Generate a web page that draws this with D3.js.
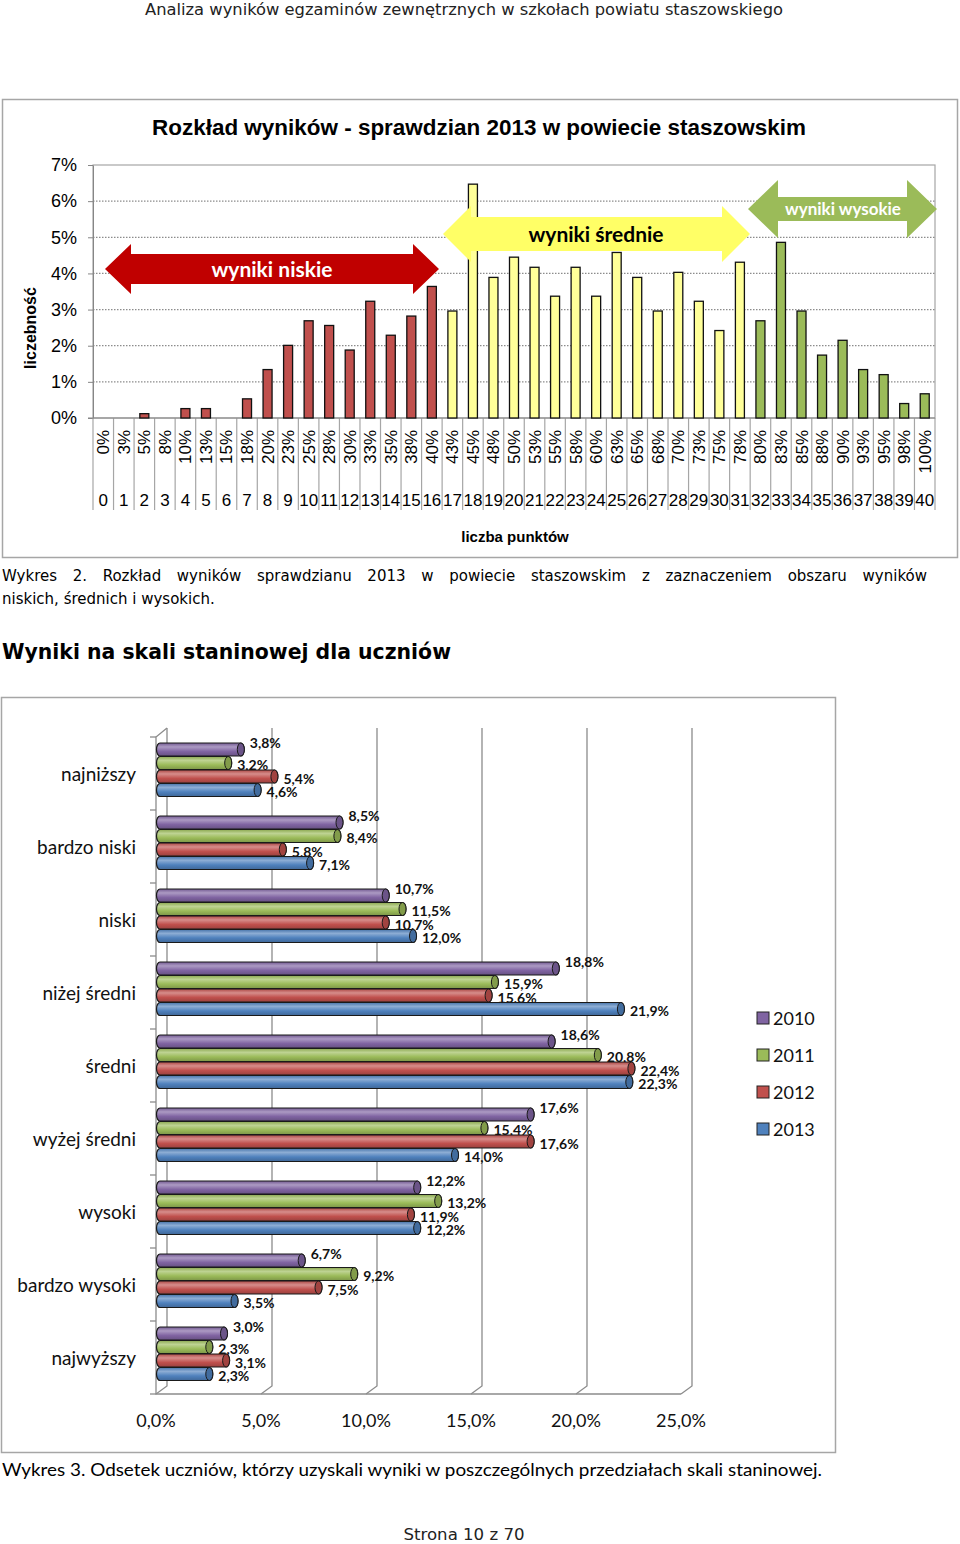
<!DOCTYPE html>
<html>
<head>
<meta charset="utf-8">
<script src="https://cdn.jsdelivr.net/npm/d3@7"></script>
<style>
  body { margin: 0; background: #fff; }
  svg { display: block; }
</style>
</head>
<body>
<svg id="page" width="960" height="1544"></svg>
<script>
// ---- chart 1: rozkład wyników (liczba punktów 0..40) ----
const points = [0,1,2,3,4,5,6,7,8,9,10,11,12,13,14,15,16,17,18,19,20,
                21,22,23,24,25,26,27,28,29,30,31,32,33,34,35,36,37,38,39,40];
const pointPct = ['0%','3%','5%','8%','10%','13%','15%','18%','20%','23%','25%','28%','30%','33%',
                  '35%','38%','40%','43%','45%','48%','50%','53%','55%','58%','60%','63%','65%',
                  '68%','70%','73%','75%','78%','80%','83%','85%','88%','90%','93%','95%','98%','100%'];
const shares = [0,0,0.12,0,0.26,0.26,0,0.53,1.34,2.01,2.69,2.56,1.88,3.23,2.29,2.82,3.64,
                2.96,6.47,3.89,4.45,4.17,3.37,4.17,3.37,4.58,3.89,2.96,4.03,3.23,2.42,4.31,
                2.69,4.86,2.96,1.74,2.15,1.34,1.20,0.40,0.67];
const yTicks = [0,1,2,3,4,5,6,7];
const lowEnd = 16;   // wyniki niskie: 0..16
const midEnd = 31;   // wyniki średnie: 17..31

// ---- chart 2: skala staninowa ----
const stanines = ['najniższy','bardzo niski','niski','niżej średni','średni',
                  'wyżej średni','wysoki','bardzo wysoki','najwyższy'];
const years = ['2010','2011','2012','2013'];
const v2010 = [3.8, 8.5, 10.7, 18.8, 18.6, 17.6, 12.2, 6.7, 3.0];
const v2011 = [3.2, 8.4, 11.5, 15.9, 20.8, 15.4, 13.2, 9.2, 2.3];
const v2012 = [5.4, 5.8, 10.7, 15.6, 22.4, 17.6, 11.9, 7.5, 3.1];
const v2013 = [4.6, 7.1, 12.0, 21.9, 22.3, 14.0, 12.2, 3.5, 2.3];
const xTicks2 = [0, 5, 10, 15, 20, 25];

const svg = d3.select('#page');
svg.append('rect').attr('width', 960).attr('height', 1544).attr('fill', '#fff');

// page header / footer
svg.append('text')
  .attr('x', 464).attr('y', 15)
  .attr('text-anchor', 'middle')
  .attr('textLength', 638).attr('lengthAdjust', 'spacingAndGlyphs')
  .style('font', '16px "DejaVu Sans"').attr('fill', '#222')
  .text('Analiza wyników egzaminów zewnętrznych w szkołach powiatu staszowskiego');

svg.append('text')
  .attr('x', 464).attr('y', 1540)
  .attr('text-anchor', 'middle')
  .attr('textLength', 121).attr('lengthAdjust', 'spacingAndGlyphs')
  .style('font', '16px "DejaVu Sans"').attr('fill', '#222')
  .text('Strona 10 z 70');

/* ================= chart 1 ================= */
const c1 = svg.append('g');

c1.append('rect')
  .attr('x', 2.5).attr('y', 99.5).attr('width', 955).attr('height', 458)
  .attr('fill', '#fff').attr('stroke', '#a6a6a6').attr('stroke-width', 1.5);

c1.append('text')
  .attr('x', 479).attr('y', 135)
  .attr('text-anchor', 'middle')
  .attr('textLength', 654).attr('lengthAdjust', 'spacingAndGlyphs')
  .style('font', 'bold 22px "Liberation Sans"').attr('fill', '#000')
  .text('Rozkład wyników - sprawdzian 2013 w powiecie staszowskim');

const x = d3.scaleBand().domain(points).range([93, 935]);
const y = d3.scaleLinear().domain([0, 7]).range([418, 165]);

// plot border + dotted grid
c1.append('rect')
  .attr('x', 93).attr('y', y(7)).attr('width', 842).attr('height', y(0) - y(7))
  .attr('fill', 'none').attr('stroke', '#a6a6a6').attr('stroke-width', 1.2);

c1.selectAll('.grid')
  .data(yTicks.filter(d => d > 0 && d < 7))
  .join('line')
  .attr('x1', 93).attr('x2', 935)
  .attr('y1', d => y(d)).attr('y2', d => y(d))
  .attr('stroke', '#8c8c8c').attr('stroke-width', 1.2)
  .attr('stroke-dasharray', '1.5,1.5');

// y axis
const yAxis = c1.append('g')
  .attr('transform', 'translate(93,0)')
  .call(d3.axisLeft(y).tickValues(yTicks).tickFormat(d => d + '%').tickSize(5).tickSizeOuter(0));
yAxis.select('.domain').attr('stroke', '#868686');
yAxis.selectAll('line').attr('stroke', '#868686');
yAxis.selectAll('text')
  .attr('x', -16)
  .style('font', '18px "Liberation Sans"').attr('fill', '#000');

c1.append('text')
  .attr('transform', 'translate(36,328) rotate(-90)')
  .attr('text-anchor', 'middle')
  .style('font', 'bold 16px "Liberation Sans"').attr('fill', '#000')
  .text('liczebność');

// category separators under the axis
const edges = points.map(p => x(p)).concat([935]);
c1.selectAll('.sep')
  .data(edges)
  .join('line')
  .attr('x1', d => d).attr('x2', d => d)
  .attr('y1', 418).attr('y2', 510)
  .attr('stroke', '#a6a6a6').attr('stroke-width', 1.2);

c1.append('line')
  .attr('x1', 88).attr('x2', 935).attr('y1', 418).attr('y2', 418)
  .attr('stroke', '#868686').attr('stroke-width', 1.2);

c1.selectAll('.pct')
  .data(points)
  .join('text')
  .attr('transform', d => `translate(${x(d) + x.bandwidth() / 2 + 6},430) rotate(-90)`)
  .attr('text-anchor', 'end')
  .style('font', '17px "Liberation Sans"').attr('fill', '#000')
  .text((d, i) => pointPct[i]);

c1.selectAll('.num')
  .data(points)
  .join('text')
  .attr('x', d => x(d) + x.bandwidth() / 2)
  .attr('y', 506)
  .attr('text-anchor', 'middle')
  .style('font', '17px "Liberation Sans"').attr('fill', '#000')
  .text(d => d);

c1.append('text')
  .attr('x', 515).attr('y', 542)
  .attr('text-anchor', 'middle')
  .style('font', 'bold 15px "Liberation Sans"').attr('fill', '#000')
  .text('liczba punktów');

// bars
function barColor(p) {
  if (p <= lowEnd) return '#c0504d';
  if (p <= midEnd) return '#ffff99';
  return '#9bbb59';
}
c1.selectAll('.bar')
  .data(points.filter((p, i) => shares[i] > 0))
  .join('rect')
  .attr('x', d => x(d) + x.bandwidth() / 2 - 4.5)
  .attr('width', 9)
  .attr('y', d => y(shares[d]))
  .attr('height', d => y(0) - y(shares[d]))
  .attr('fill', d => barColor(d))
  .attr('stroke', '#111').attr('stroke-width', 1.3);

// double arrows with region names
function doubleArrow(a) {
  const p = [
    [a.x0, a.cy], [a.x0 + a.hw, a.cy - a.hh], [a.x0 + a.hw, a.cy - a.bh],
    [a.x1 - a.hw, a.cy - a.bh], [a.x1 - a.hw, a.cy - a.hh], [a.x1, a.cy],
    [a.x1 - a.hw, a.cy + a.hh], [a.x1 - a.hw, a.cy + a.bh],
    [a.x0 + a.hw, a.cy + a.bh], [a.x0 + a.hw, a.cy + a.hh]
  ];
  c1.append('polygon').attr('points', p.map(q => q.join(',')).join(' ')).attr('fill', a.fill);
  c1.append('text')
    .attr('x', a.tx).attr('y', a.cy + a.fs * 0.36)
    .attr('text-anchor', 'middle')
    .style('font', `bold ${a.fs}px Lato`).attr('fill', a.color)
    .text(a.label);
}
doubleArrow({x0: 105, x1: 439, cy: 269, hw: 26, hh: 25, bh: 15, fill: '#c00000',
             label: 'wyniki niskie', color: '#fff', fs: 21, tx: 272});
doubleArrow({x0: 443, x1: 750, cy: 234, hw: 28, hh: 28, bh: 17, fill: '#ffff66',
             label: 'wyniki średnie', color: '#000', fs: 21, tx: 596});
doubleArrow({x0: 748, x1: 937, cy: 209, hw: 30, hh: 29, bh: 12, fill: '#9bbb59',
             label: 'wyniki wysokie', color: '#fff', fs: 17, tx: 843});

// caption of chart 1, justified first line
function justifyLine(words, x0, x1, yy, font) {
  const nodes = words.map(w => svg.append('text').attr('y', yy).style('font', font).attr('fill', '#000').text(w));
  const widths = nodes.map(n => n.node().getComputedTextLength());
  const gap = (x1 - x0 - d3.sum(widths)) / (words.length - 1);
  let cx = x0;
  nodes.forEach((n, i) => { n.attr('x', cx); cx += widths[i] + gap; });
}
const capFont = '15px "DejaVu Sans"';
justifyLine('Wykres 2. Rozkład wyników sprawdzianu 2013 w powiecie staszowskim z zaznaczeniem obszaru wyników'.split(' '),
            2, 927, 581, capFont);
svg.append('text').attr('x', 2).attr('y', 604).style('font', capFont).attr('fill', '#000')
  .text('niskich, średnich i wysokich.');

svg.append('text')
  .attr('x', 2).attr('y', 659)
  .attr('textLength', 449).attr('lengthAdjust', 'spacingAndGlyphs')
  .style('font', 'bold 21px "DejaVu Sans"').attr('fill', '#000')
  .text('Wyniki na skali staninowej dla uczniów');

/* ================= chart 2 ================= */
const c2 = svg.append('g');
c2.append('rect')
  .attr('x', 1.5).attr('y', 697.5).attr('width', 834).attr('height', 755)
  .attr('fill', '#fff').attr('stroke', '#a6a6a6').attr('stroke-width', 1.5);

const xs = d3.scaleLinear().domain([0, 25]).range([156, 681]);
const cat = d3.scaleBand().domain(stanines).range([737, 1394]);
const ser = d3.scaleBand().domain(years).range([6, 60]);
const depthX = 11, depthY = 8;
const floorY = 1394, wallTop = 728;

// back wall grid with floor slants
xTicks2.forEach(v => {
  c2.append('path')
    .attr('d', `M${xs(v) + depthX},${wallTop} L${xs(v) + depthX},${floorY - depthY} L${xs(v)},${floorY}`)
    .attr('fill', 'none').attr('stroke', '#8c8c8c').attr('stroke-width', 1.3);
});
// left wall (front edge), floor front edge
c2.append('path')
  .attr('d', `M${xs(0) + depthX},${wallTop} L${xs(0)},${wallTop + depthY + 1} L${xs(0)},${floorY} L${xs(25)},${floorY}`)
  .attr('fill', 'none').attr('stroke', '#8c8c8c').attr('stroke-width', 1.3);
// category ticks
c2.selectAll('.ctick')
  .data(stanines.map(s => cat(s)).concat([floorY]))
  .join('line')
  .attr('x1', xs(0) - 6).attr('x2', xs(0))
  .attr('y1', d => d).attr('y2', d => d)
  .attr('stroke', '#8c8c8c').attr('stroke-width', 1.3);

c2.selectAll('.clabel')
  .data(stanines)
  .join('text')
  .attr('x', 136)
  .attr('y', d => cat(d) + cat.bandwidth() / 2 + 7)
  .attr('text-anchor', 'end')
  .style('font', '19px Lato').attr('fill', '#111')
  .text(d => d);

c2.selectAll('.xlabel')
  .data(xTicks2)
  .join('text')
  .attr('x', d => xs(d))
  .attr('y', 1427)
  .attr('text-anchor', 'middle')
  .style('font', '18px Lato').attr('fill', '#111')
  .text(d => d3.format('.1f')(d).replace('.', ',') + '%');

// cylinder gradients
const colors = {'2010': '#8064a2', '2011': '#9bbb59', '2012': '#c0504d', '2013': '#4f81bd'};
const defs = svg.append('defs');
years.forEach(yr => {
  const base = d3.color(colors[yr]);
  const g = defs.append('linearGradient').attr('id', 'cyl' + yr)
    .attr('x1', 0).attr('y1', 0).attr('x2', 0).attr('y2', 1);
  g.append('stop').attr('offset', '0%').attr('stop-color', base.darker(0.3));
  g.append('stop').attr('offset', '30%').attr('stop-color', d3.interpolateRgb(base, '#fff')(0.35));
  g.append('stop').attr('offset', '65%').attr('stop-color', base);
  g.append('stop').attr('offset', '100%').attr('stop-color', base.darker(0.6));
});

const seriesVals = {'2010': v2010, '2011': v2011, '2012': v2012, '2013': v2013};
const bx = v => xs(v) + 5;
const fmt = v => d3.format('.1f')(v).replace('.', ',') + '%';

stanines.forEach((s, i) => {
  years.forEach((yr, k) => {
    const v = seriesVals[yr][i];
    const yt = cat(s) + ser(yr);
    const h = ser.bandwidth() - 0.5;
    const r = h / 2, ex = 3.5;
    const xa = xs(0) + 4, xb = bx(v);
    c2.append('path')
      .attr('d', `M${xa},${yt} L${xb},${yt} A${ex},${r} 0 0 1 ${xb},${yt + h} L${xa},${yt + h} A${ex},${r} 0 0 1 ${xa},${yt} Z`)
      .attr('fill', `url(#cyl${yr})`)
      .attr('stroke', '#1a1a1a').attr('stroke-width', 1.2);
    c2.append('ellipse')
      .attr('cx', xb).attr('cy', yt + r).attr('rx', ex).attr('ry', r)
      .attr('fill', d3.color(colors[yr]).darker(0.5))
      .attr('stroke', '#1a1a1a').attr('stroke-width', 1);
    c2.append('text')
      .attr('x', xb + 9)
      .attr('y', yt + r + (k === 0 ? -7 : 2) + 5)
      .style('font', 'bold 14px Lato').attr('fill', '#111')
      .text(fmt(v));
  });
});

// legend
const leg = c2.selectAll('.leg').data(years).join('g')
  .attr('transform', (d, i) => `translate(757,${1018 + i * 37})`);
leg.append('rect')
  .attr('x', 0).attr('y', -6).attr('width', 12).attr('height', 12)
  .attr('fill', d => colors[d]).attr('stroke', '#222').attr('stroke-width', 1);
leg.append('text')
  .attr('x', 16).attr('y', 7)
  .style('font', '18px Lato').attr('fill', '#111')
  .text(d => d);

svg.append('text')
  .attr('x', 2).attr('y', 1476)
  .attr('textLength', 820).attr('lengthAdjust', 'spacingAndGlyphs')
  .style('font', '17px Lato').attr('fill', '#000')
  .text('Wykres 3. Odsetek uczniów, którzy uzyskali wyniki w poszczególnych przedziałach skali staninowej.');
</script>
</body>
</html>
